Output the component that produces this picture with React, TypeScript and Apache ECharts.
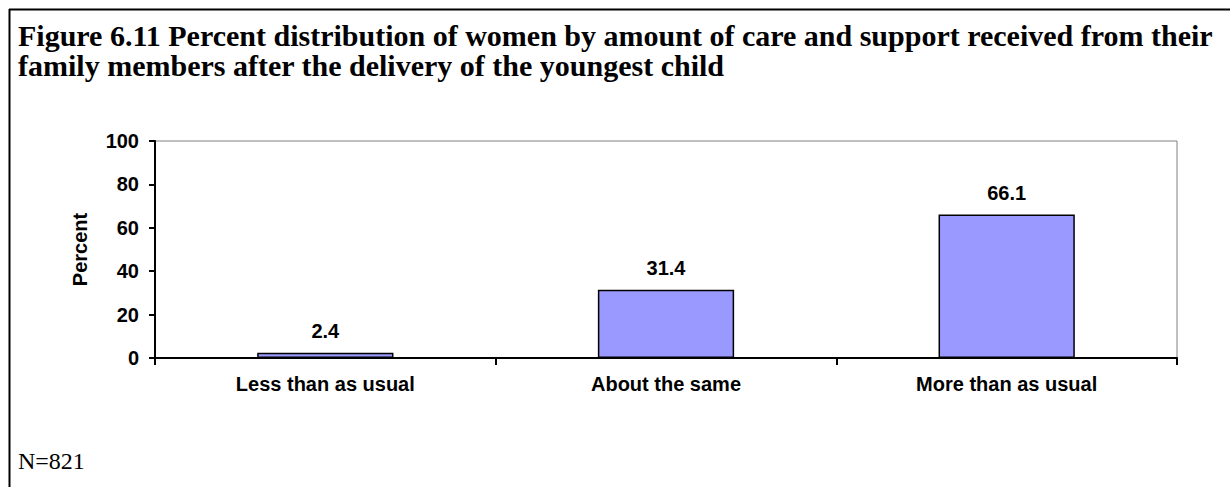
import React, { useEffect, useRef } from "react";
import * as echarts from "echarts";

const categories = ["Less than as usual", "About the same", "More than as usual"];
const values = [2.4, 31.4, 66.1];
const yTicks = [0, 20, 40, 60, 80, 100];
const titleLines = [
  "Figure 6.11 Percent distribution of women by amount of care and support received from their",
  "family members after the delivery of the youngest child",
];
const footnote = "N=821";

export default function App() {
  const ref = useRef<HTMLDivElement>(null);
  useEffect(() => {
    if (!ref.current) return;
    const chart = echarts.init(ref.current, null, { renderer: "svg" });
    const sans = "Liberation Sans, Arial, sans-serif";
    const serif = "Liberation Serif, Times New Roman, serif";
    chart.setOption({
      animation: false,
      backgroundColor: "#ffffff",
      title: {
        text: titleLines.join("\n"),
        left: 13,
        top: 15,
        textStyle: {
          fontFamily: serif,
          fontWeight: "bold",
          fontSize: 30,
          lineHeight: 30,
          color: "#000",
        },
      },
      grid: {
        left: 155,
        right: 53,
        top: 141,
        bottom: 129,
        show: true,
        borderColor: "#808080",
        borderWidth: 1,
        backgroundColor: "transparent",
      },
      xAxis: {
        type: "category",
        data: categories,
        axisLine: { show: true, lineStyle: { color: "#000", width: 2 } },
        axisTick: { show: true, length: 7, lineStyle: { color: "#000", width: 2 } },
        axisLabel: {
          margin: 16,
          fontFamily: sans,
          fontWeight: "bold",
          fontSize: 20,
          color: "#000",
        },
      },
      yAxis: {
        type: "value",
        min: yTicks[0],
        max: yTicks[yTicks.length - 1],
        interval: 20,
        name: "Percent",
        nameLocation: "middle",
        nameGap: 65,
        nameTextStyle: {
          fontFamily: sans,
          fontWeight: "bold",
          fontSize: 20,
          color: "#000",
        },
        axisLine: { show: true, lineStyle: { color: "#000", width: 2 } },
        axisTick: { show: true, length: 6, lineStyle: { color: "#000", width: 2 } },
        axisLabel: {
          margin: 16,
          fontFamily: sans,
          fontWeight: "bold",
          fontSize: 20,
          color: "#000",
        },
        splitLine: { show: false },
      },
      series: [
        {
          type: "bar",
          data: values,
          barWidth: "40%",
          itemStyle: { color: "#9999ff", borderColor: "#000", borderWidth: 1.5 },
          label: {
            show: true,
            position: "top",
            distance: 12,
            fontFamily: sans,
            fontWeight: "bold",
            fontSize: 20,
            color: "#000",
            formatter: (p: any) => p.value.toFixed(1),
          },
        },
      ],
      graphic: [
        {
          type: "line",
          shape: { x1: 9, y1: 9.5, x2: 1230, y2: 9.5 },
          style: { stroke: "#000", lineWidth: 2 },
        },
        {
          type: "line",
          shape: { x1: 9.5, y1: 9, x2: 9.5, y2: 487 },
          style: { stroke: "#000", lineWidth: 2 },
        },
        {
          type: "text",
          left: 18,
          top: 449,
          style: { text: footnote, fontFamily: serif, fontSize: 24, fill: "#000" },
        },
      ],
    });
    return () => chart.dispose();
  }, []);
  return (
    <div
      ref={ref}
      style={{ position: "absolute", left: 0, top: 0, width: 1230, height: 487 }}
    />
  );
}
